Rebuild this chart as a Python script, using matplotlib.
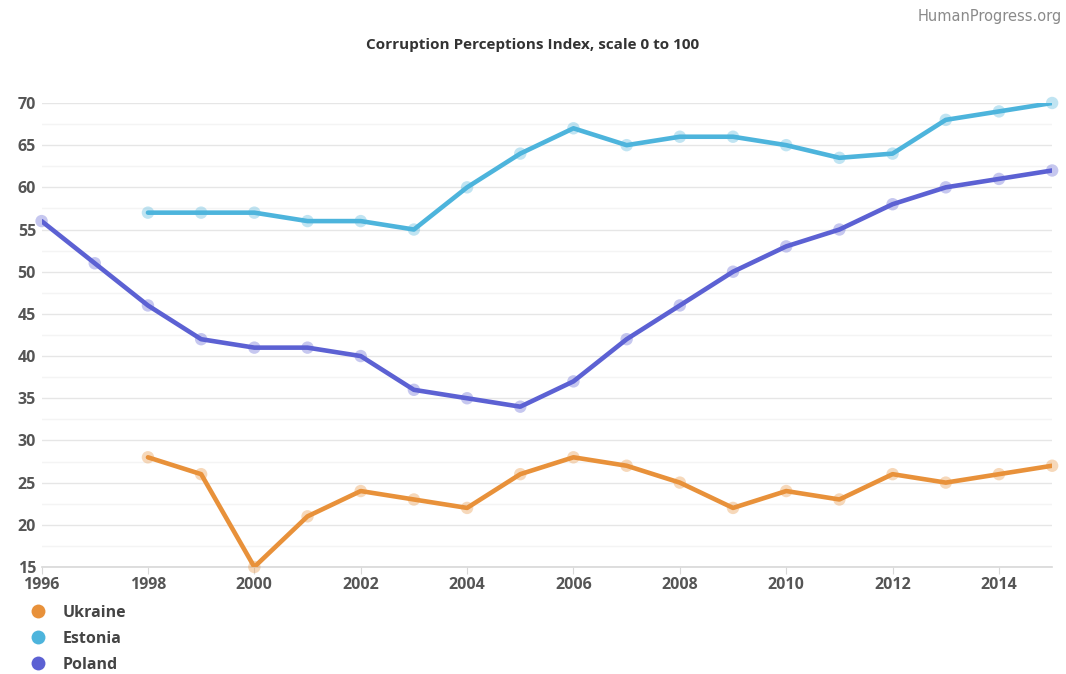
import matplotlib.pyplot as plt
from matplotlib.lines import Line2D

years = list(range(1996, 2016))

ukraine_years = list(range(1998, 2016))
ukraine = [28, 26, 15, 21, 24, 23, 22, 26, 28, 27, 25, 22, 24, 23, 26, 25, 26, 27]

estonia_years = list(range(1998, 2016))
estonia = [57, 57, 57, 56, 56, 55, 60, 64, 67, 65, 66, 66, 65, 63.5, 64, 68, 69, 70]

poland_years = years
poland = [56, 51, 46, 42, 41, 41, 40, 36, 35, 34, 37, 42, 46, 50, 53, 55, 58, 60, 61, 62]

series_names = ["Ukraine", "Estonia", "Poland"]
colors = ["#E8913A", "#4DB4DC", "#5C61D3"]

plt.rcParams["font.family"] = ["Open Sans", "DejaVu Sans"]

fig = plt.figure(figsize=(10.66, 6.74), dpi=100)
ax = fig.add_axes([0.039, 0.1588, 0.948, 0.6884])

data = [(ukraine_years, ukraine), (estonia_years, estonia), (poland_years, poland)]
for (xs, ys), c in zip(data, colors):
    ax.plot(xs, ys, color=c, lw=3.3, zorder=3, solid_capstyle="round")
    ax.scatter(xs, ys, s=80, color=c, alpha=0.35, zorder=4, clip_on=False,
               edgecolors="none")

ax.set_xlim(1996, 2015)
ax.set_ylim(15, 70)
ax.set_xticks(range(1996, 2016, 2))
ax.set_yticks(range(15, 71, 5))
ax.set_yticks([v + 2.5 for v in range(15, 70, 5)], minor=True)

ax.grid(axis="y", which="major", color="#e6e6e6", lw=1)
ax.grid(axis="y", which="minor", color="#f4f4f4", lw=1)
ax.set_axisbelow(True)

for s in ["top", "right", "left"]:
    ax.spines[s].set_visible(False)
ax.spines["bottom"].set_color("#d8d8d8")
ax.spines["bottom"].set_linewidth(1.2)

ax.tick_params(axis="y", which="both", length=0, pad=4, labelsize=11.5,
               labelcolor="#555555")
ax.tick_params(axis="x", length=5, color="#d8d8d8", pad=2, labelsize=11.5,
               labelcolor="#555555")
for lbl in ax.get_xticklabels() + ax.get_yticklabels():
    lbl.set_fontweight("bold")

fig.text(0.5, 0.933, "Corruption Perceptions Index, scale 0 to 100",
         ha="center", va="center", fontsize=11, fontweight="bold",
         color="#333333")
fig.text(0.996, 0.975, "HumanProgress.org", ha="right", va="center",
         fontsize=10.5, color="#8a8a8a",
         family=["Liberation Sans Narrow", "DejaVu Sans"])

handles = [Line2D([], [], marker="o", ls="none", markersize=10, color=c,
                  markeredgecolor="none") for c in colors]
leg = fig.legend(handles, series_names, loc="upper left",
                 bbox_to_anchor=(0.018, 0.112), frameon=False,
                 handlelength=1.5, handletextpad=0.85, labelspacing=0.62,
                 prop={"size": 11.5, "weight": "bold"}, borderaxespad=0)
for t in leg.get_texts():
    t.set_color("#444444")

fig.savefig("out.png", dpi=100, facecolor="white")
